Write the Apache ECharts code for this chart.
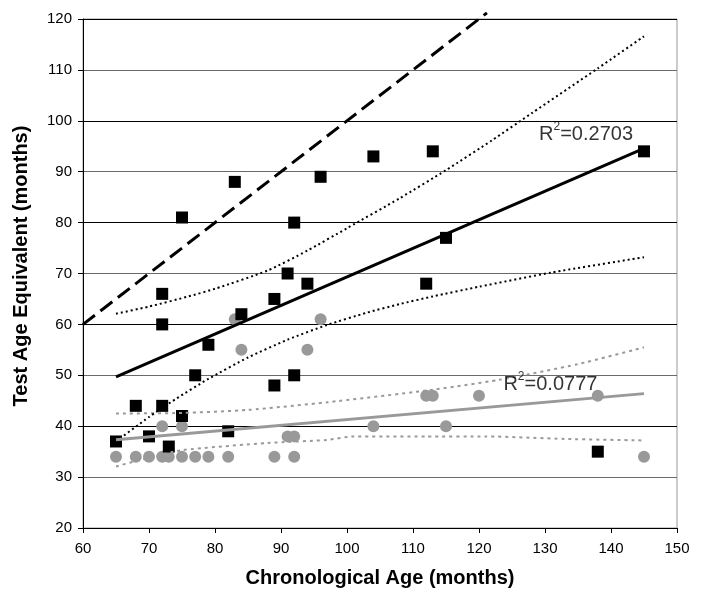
<!DOCTYPE html>
<html><head><meta charset="utf-8">
<script src="https://cdn.jsdelivr.net/npm/echarts@6/dist/echarts.min.js"></script>
<style>html,body{margin:0;padding:0;background:#fff}#c{width:702px;height:603px}</style>
</head><body><div id="c"></div>
<script>
// Black squares
const blackX = [65,68,70,72,72,72,73,75,75,77,79,82,83,84,89,89,91,92,92,94,96,104,112,113,115,138,145];
const blackY = [37,44,38,66,60,44,36,81,42,50,56,39,88,62,65,48,70,80,50,68,89,93,68,94,77,35,94];
// Gray circles
const grayX = [65,68,70,72,72,73,75,75,77,79,82,83,84,89,91,92,92,94,96,104,112,113,115,120,138,145];
const grayY = [34,34,34,34,40,34,34,40,34,34,34,61,55,34,38,38,34,55,61,40,46,46,40,46,46,34];
// Trend lines
const blackFitX = [65,145];
const blackFitY = [49.7,94.6];
const grayFitX = [65,145];
const grayFitY = [37.35,46.4];
// Identity (dashed) line
const identX = [60,121.2];
const identY = [60,121.2];
// Black bands
const blackUpX = [65,70,76,80,88,94,100,108,115,122,128,138,145];
const blackUpY = [62.1,63.5,65.5,67.0,70.6,74.5,78.9,84.8,90.3,96.2,101.5,110.3,116.6];
const blackLoX = [65,70,74,79,85,91,97,103,108,113,120,131,145];
const blackLoY = [37,41.8,45.3,49.3,53.5,57.0,59.9,62.3,64.0,65.5,67.4,70.2,73.2];
// Gray bands
const grayUpX = [65,75,85,97,112,123,135,145];
const grayUpY = [42.5,42.6,43.2,44.7,47.0,49.1,52.2,55.5];
const grayLoX = [65,70,75,88,97,101,112,121,133,145];
const grayLoY = [32.1,33.8,35.3,36.7,37.3,38,38,38,37.5,37.2];
// R² labels
const r2Text = ['0.2703','0.0777'];
// Axis ticks
const xTicks = [60,70,80,90,100,110,120,130,140,150];
const yTicks = [20,30,40,50,60,70,80,90,100,110,120];

const zip = (xs, ys) => xs.map((x,i)=>[x, ys[i]]);
const FONT = '"Liberation Sans", Arial, sans-serif';
const chart = echarts.init(document.getElementById('c'), null, {renderer:'canvas'});

const axisCommon = {
  type:'value',
  axisLine:{show:true,onZero:false,lineStyle:{color:'#000',width:1}},
  axisTick:{show:true,length:5,inside:false,lineStyle:{color:'#000',width:1}},
  axisLabel:{color:'#000',fontSize:15,fontFamily:FONT}
};

function lineSeries(xs, ys, color, width, type, smooth, clip){
  return {type:'line', data: zip(xs,ys), showSymbol:false, symbol:'none', smooth: smooth||false,
    clip: clip!==false, silent:true,
    lineStyle:{color:color,width:width,type:type,cap:'butt'}};
}

const richStyle = {
  b:{fontSize:20,fontFamily:FONT,color:'#000',lineHeight:28},
  s:{fontSize:12,fontFamily:FONT,color:'#000',verticalAlign:'top',lineHeight:12}
};

function labelSeries(pt, txt){
  return {type:'scatter', data:[pt], symbolSize:0, silent:true, z:10,
    label:{show:true, position:[0,0], align:'left', verticalAlign:'middle', color:'#000',
      formatter:'{b|R}{s|2}{b|=' + txt + '}', rich: richStyle}};
}

const option = {
  animation:false,
  backgroundColor:'#fff',
  grid:{left:83,right:25,top:19,bottom:75,show:true,borderColor:'#999',borderWidth:1,backgroundColor:'transparent'},
  xAxis: Object.assign({}, axisCommon, {min:xTicks[0],max:xTicks[xTicks.length-1],interval:10,
    axisLabel:Object.assign({},axisCommon.axisLabel,{margin:13}), splitLine:{show:false}}),
  yAxis: Object.assign({}, axisCommon, {min:yTicks[0],max:yTicks[yTicks.length-1],interval:10,
    axisLabel:Object.assign({},axisCommon.axisLabel,{margin:11}),
    splitLine:{show:true,lineStyle:{color:['#000','#6a6a6a'],width:1}}}),
  series:[
    {type:'scatter', name:'gray', data: zip(grayX,grayY), symbol:'circle', symbolSize:12,
      itemStyle:{color:'#999',opacity:1}, silent:true},
    {type:'scatter', name:'black', data: zip(blackX,blackY), symbol:'rect', symbolSize:12,
      itemStyle:{color:'#000',opacity:1}, silent:true},
    lineSeries(grayUpX, grayUpY, '#999', 2, [3,4], 0.2),
    lineSeries(grayLoX, grayLoY, '#999', 2, [3,4], 0.2),
    lineSeries(blackUpX, blackUpY, '#000', 2, [2,3], 0.2),
    lineSeries(blackLoX, blackLoY, '#000', 2, [2,3], 0.2),
    lineSeries(grayFitX, grayFitY, '#999', 3, 'solid'),
    lineSeries(blackFitX, blackFitY, '#000', 3, 'solid'),
    lineSeries(identX, identY, '#000', 3, [15,7], false, false),
    labelSeries([129.1, 97.3], r2Text[0]),
    labelSeries([123.7, 48.2], r2Text[1])
  ],
  graphic:[
    {type:'text', x:380, y:578, style:{text:'Chronological Age (months)', font:'bold 20px ' + FONT,
      fill:'#000', align:'center', verticalAlign:'middle'}},
    {type:'text', x:21.5, y:266, rotation:Math.PI/2, style:{text:'Test Age Equivalent (months)', font:'bold 20px ' + FONT,
      fill:'#000', align:'center', verticalAlign:'middle'}}
  ]
};
chart.setOption(option);
</script>
</body></html>
